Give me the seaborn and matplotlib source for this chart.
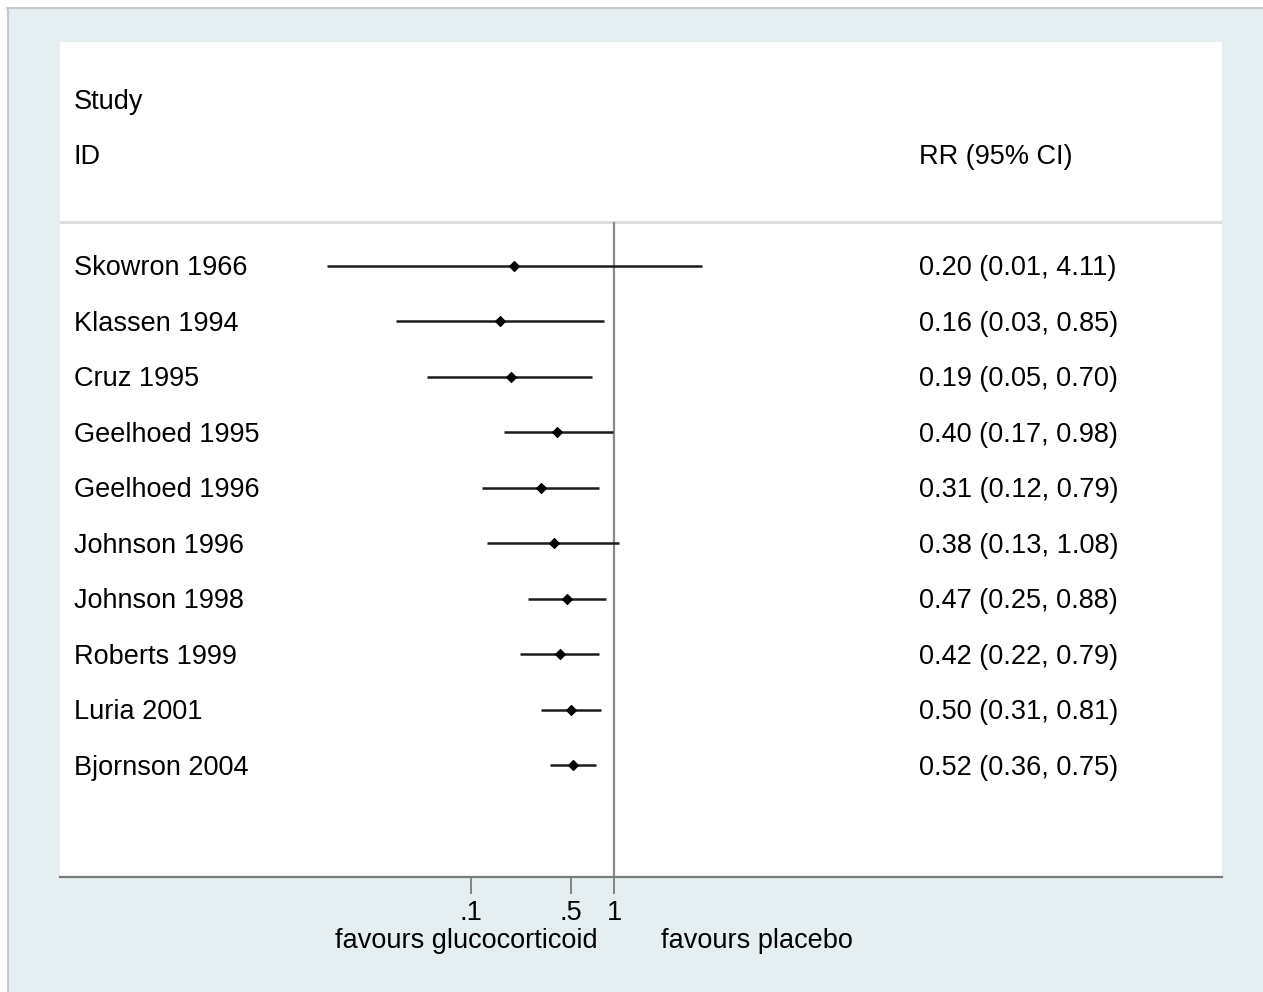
import matplotlib
matplotlib.use("Agg")
import matplotlib.pyplot as plt
import matplotlib.transforms as mtransforms
from matplotlib.patches import Rectangle
from matplotlib.lines import Line2D
import seaborn as sns
import pandas as pd

studies = ["Skowron 1966", "Klassen 1994", "Cruz 1995", "Geelhoed 1995", "Geelhoed 1996",
           "Johnson 1996", "Johnson 1998", "Roberts 1999", "Luria 2001", "Bjornson 2004"]
rr = [0.20, 0.16, 0.19, 0.40, 0.31, 0.38, 0.47, 0.42, 0.50, 0.52]
ci_low = [0.01, 0.03, 0.05, 0.17, 0.12, 0.13, 0.25, 0.22, 0.31, 0.36]
ci_high = [4.11, 0.85, 0.70, 0.98, 0.79, 1.08, 0.88, 0.79, 0.81, 0.75]
tick_values = [0.1, 0.5, 1]
tick_labels = [".1", ".5", "1"]

sns.set_style("white")
plt.rcParams['font.family'] = ['Liberation Sans', 'DejaVu Sans']
plt.rcParams['text.color'] = 'black'
plt.rcParams['xtick.color'] = '#7a7a7a'
plt.rcParams['xtick.labelcolor'] = 'black'
FS = 19.5

df = pd.DataFrame({"study": studies, "rr": rr, "lo": ci_low, "hi": ci_high})
df["row"] = range(1, len(df) + 1)

W, H = 1263, 992
fig = plt.figure(figsize=(W / 100, H / 100), dpi=100, facecolor="white")

# outer graph region
bg = "#E5EEF0"
fig.patches.append(Rectangle((7 / W, 0), 1 - 7 / W, 1 - 7 / H, transform=fig.transFigure,
                             facecolor=bg, edgecolor="none", zorder=-10))
fig.lines.append(Line2D([7 / W, 1], [1 - 7.5 / H, 1 - 7.5 / H], transform=fig.transFigure,
                        color="#c4c8c9", lw=1.5))
fig.lines.append(Line2D([7.5 / W, 7.5 / W], [0, 1 - 7.5 / H], transform=fig.transFigure,
                        color="#c4c8c9", lw=1.5))

left, right, top, bottom = 60, 1222, 42, 877
ax = fig.add_axes([left / W, (H - bottom) / H, (right - left) / W, (bottom - top) / H])
ax.set_facecolor("white")

ax.set_xscale("log")
ax.set_xlim(10 ** (-3.861), 10 ** (4.237))
ax.set_ylim(12.01, -3.036)

# CI lines
ax.hlines(df["row"], df["lo"], df["hi"], color="#1c1c1c", lw=1.8, zorder=3)
sns.scatterplot(data=df, x="rr", y="row", marker="D", s=26, color="black",
                edgecolor="black", linewidth=0.8, ax=ax, zorder=4, legend=False)

# null line
ax.vlines(1, 0.2, 12.01, color="#8a8a8a", lw=1.6, zorder=2)
# header separator
ax.axhline(0.2, color="#dedede", lw=2.2, zorder=1)

tr = mtransforms.blended_transform_factory(ax.transAxes, ax.transData)
x_name = (74 - left) / (right - left)
x_rr = (919 - left) / (right - left)
dy = 0.045
ax.text(x_name, -2 + dy, "Study", transform=tr, fontsize=FS, va="center", ha="left")
ax.text(x_name, -1 + dy, "ID", transform=tr, fontsize=FS, va="center", ha="left")
ax.text(x_rr, -1 + dy, "RR (95% CI)", transform=tr, fontsize=FS, va="center", ha="left")
for _, r in df.iterrows():
    ax.text(x_name, r["row"] + dy, r["study"], transform=tr, fontsize=FS, va="center", ha="left")
    ax.text(x_rr, r["row"] + dy, f"{r['rr']:.2f} ({r['lo']:.2f}, {r['hi']:.2f})",
            transform=tr, fontsize=FS, va="center", ha="left")

for s in ["top", "left", "right"]:
    ax.spines[s].set_visible(False)
ax.spines["bottom"].set_color("#7a7a7a")
ax.spines["bottom"].set_linewidth(1.6)
ax.set_yticks([])
ax.set_xticks(tick_values)
ax.set_xticklabels(tick_labels)
ax.minorticks_off()
ax.tick_params(axis="x", which="major", length=12, width=1.3, color="#7a7a7a",
               labelcolor="black", labelsize=FS, pad=4.5, bottom=True)
ax.set_xlabel("")
ax.set_ylabel("")

fig.text(466 / W, 1 - 941 / H, "favours glucocorticoid", fontsize=FS, ha="center", va="center")
fig.text(757 / W, 1 - 941 / H, "favours placebo", fontsize=FS, ha="center", va="center")

fig.savefig("out.png", dpi=100, facecolor="white")
